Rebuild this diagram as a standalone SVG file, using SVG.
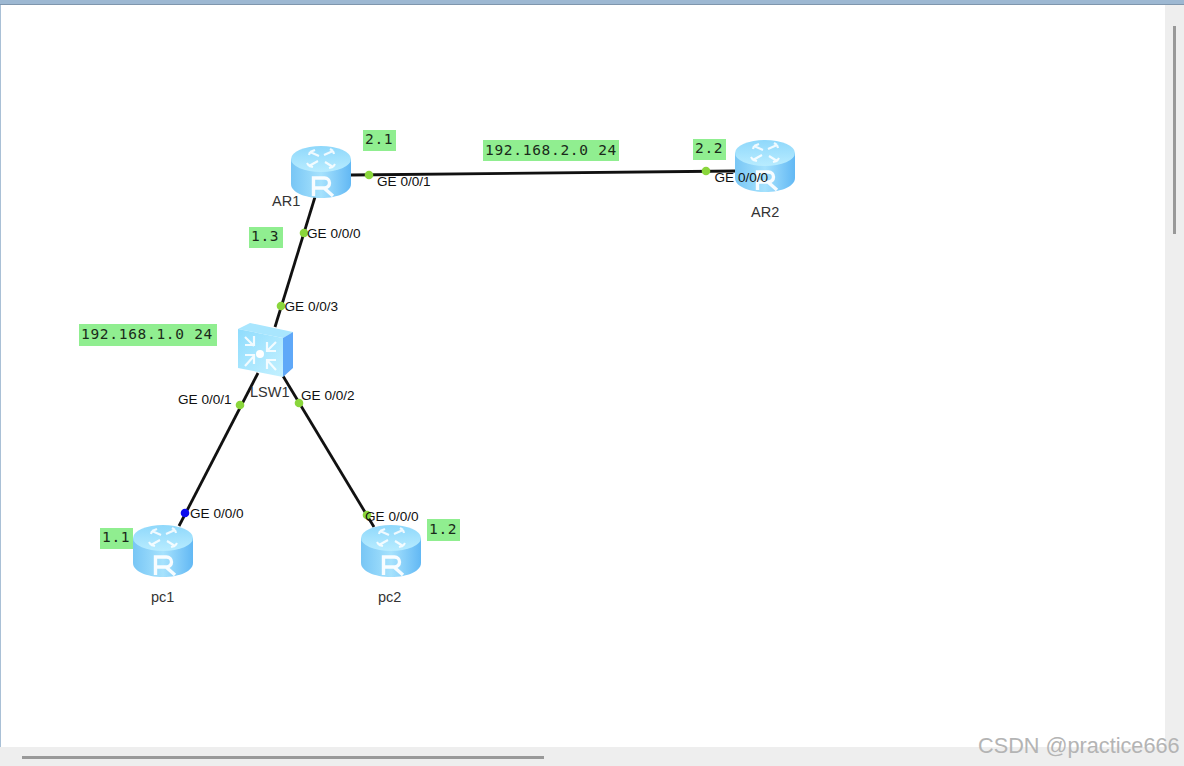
<svg xmlns="http://www.w3.org/2000/svg" width="1184" height="766" viewBox="0 0 1184 766">
<style>
.lnk{stroke:#111;stroke-width:2.800;fill:none;stroke-linecap:butt}
.port{font:13.600px "Liberation Sans",Arial,sans-serif;fill:#111}
.name{font:14.500px "Liberation Sans",Arial,sans-serif;fill:#333}
.tag{fill:#90ee90}
.mono{font:14.500px "DejaVu Sans Mono",monospace;fill:#1a2a1a;letter-spacing:.7px}
.dot{fill:#8ad63c}
.ico{fill:none;stroke:#fff;stroke-width:2.200;opacity:.85}
</style>
<defs>
<linearGradient id="body" x1="0" x2="1" y1="0" y2="0"><stop offset="0" stop-color="#78c6f5"/><stop offset=".5" stop-color="#a6e2fd"/><stop offset="1" stop-color="#62b8f4"/></linearGradient>
<linearGradient id="top" x1="0" x2="0" y1="0" y2="1"><stop offset="0" stop-color="#8fd8fb"/><stop offset="1" stop-color="#b8ecff"/></linearGradient>
<linearGradient id="sw" x1="0" x2="1" y1="0" y2="1"><stop offset="0" stop-color="#8fdcfd"/><stop offset="1" stop-color="#c4f1ff"/></linearGradient>
<g id="router">
<path d="M0 13V38C0 46 13 52 30 52S60 46 60 38V13Z" fill="url(#body)"/>
<ellipse cx="30" cy="13" rx="30" ry="13" fill="url(#top)"/>
<path class="ico" d="M19 6l9 4M19 6l5-2M19 6l-1 3M42 5l-9 4M42 5l-3-2M42 5l1 3M18 20l9-5M18 20l-2-3M18 20l4 1M42 21l-8-5M42 21l2-3M42 21l-4 1"/>
<path d="M22.500 50V32h11a5 5 0 0 1 0 10H22.500M33 42l9 8" fill="none" stroke="#fff" stroke-width="3.400" opacity=".92"/>
</g>
</defs>
<rect width="1184" height="766" fill="#fff"/>
<rect width="1184" height="5" fill="#9db8d2"/>
<rect y="4" width="1184" height="1" fill="#7f96ad"/>
<rect y="5" width="1" height="761" fill="#a9c0d6"/>
<rect x="1165" y="5" width="19" height="761" fill="#eeeeee"/>
<rect x="0" y="747" width="1184" height="19" fill="#eeeeee"/>
<rect x="1173" y="26" width="3" height="208" fill="#999"/>
<rect x="22" y="756" width="522" height="3" fill="#999"/>
<g id="connectors">
<line class="lnk" x1="351" y1="175" x2="736" y2="171"/>
<line class="lnk" x1="315" y1="197" x2="275" y2="327"/>
<line class="lnk" x1="258" y1="373" x2="179" y2="526"/>
<line class="lnk" x1="283" y1="376" x2="374" y2="527"/>
</g>
<g id="node-AR1">
<use href="#router" x="291" y="146"/>
<text class="name" x="272" y="206">AR1</text>
</g>
<g id="node-AR2">
<use href="#router" x="735" y="140"/>
<text class="name" x="751" y="217">AR2</text>
</g>
<g id="node-pc1">
<use href="#router" x="133" y="525"/>
<text class="name" x="151" y="602">pc1</text>
</g>
<g id="node-pc2">
<use href="#router" x="361" y="525"/>
<text class="name" x="378" y="602">pc2</text>
</g>
<g id="node-LSW1">
<path d="M238 329L250 323L293 332L283 338Z" fill="#a9e6fe"/>
<path d="M238 329L283 338V377L238 368Z" fill="url(#sw)"/>
<path d="M283 338L293 332V368L283 377Z" fill="#5fa8f8"/>
<path class="ico" d="M245 337l9 9M245 345h9v-9M276 342l-9 9M267 342v9h9M245 366l9-10M245 355h9v9M276 370l-9-10M267 369v-9h9"/>
<circle cx="260" cy="354" r="4" fill="#fff"/>
<text class="name" x="250" y="397" fill="#445">LSW1</text>
</g>
<g id="ports">
<circle class="dot" cx="369" cy="175" r="4.300"/>
<circle class="dot" cx="706" cy="171" r="4.300"/>
<circle class="dot" cx="304" cy="233" r="4.300"/>
<circle class="dot" cx="281" cy="306" r="4.300"/>
<circle class="dot" cx="240" cy="405" r="4.300"/>
<circle class="dot" cx="299" cy="403" r="4.300"/>
<circle cx="185" cy="513" r="4.300" fill="#0a0aee"/>
<circle class="dot" cx="367" cy="515" r="4.300"/>
<text class="port" x="377" y="186">GE 0/0/1</text>
<text class="port" x="714.500" y="182">GE 0/0/0</text>
<text class="port" x="307" y="238">GE 0/0/0</text>
<text class="port" x="284.500" y="311">GE 0/0/3</text>
<text class="port" x="178" y="404">GE 0/0/1</text>
<text class="port" x="301" y="400">GE 0/0/2</text>
<text class="port" x="190" y="518">GE 0/0/0</text>
<text class="port" x="365" y="521">GE 0/0/0</text>
</g>
<g id="labels">
<rect class="tag" x="363" y="130" width="33" height="21"/><text class="mono" x="365" y="144">2.1</text>
<rect class="tag" x="483" y="140" width="136" height="21"/><text class="mono" x="485" y="155">192.168.2.0 24</text>
<rect class="tag" x="693" y="139" width="33" height="21"/><text class="mono" x="695" y="153">2.2</text>
<rect class="tag" x="249" y="227" width="34" height="21"/><text class="mono" x="251" y="241">1.3</text>
<rect class="tag" x="79" y="324" width="138" height="22"/><text class="mono" x="81" y="339">192.168.1.0 24</text>
<rect class="tag" x="100" y="528" width="33" height="21"/><text class="mono" x="102" y="542">1.1</text>
<rect class="tag" x="427" y="519" width="33" height="22"/><text class="mono" x="429" y="534">1.2</text>
</g>
<text x="978" y="753" font-family="Liberation Sans,Arial,sans-serif" font-size="21.700" fill="#b4b4b4">CSDN @practice666</text>
</svg>
